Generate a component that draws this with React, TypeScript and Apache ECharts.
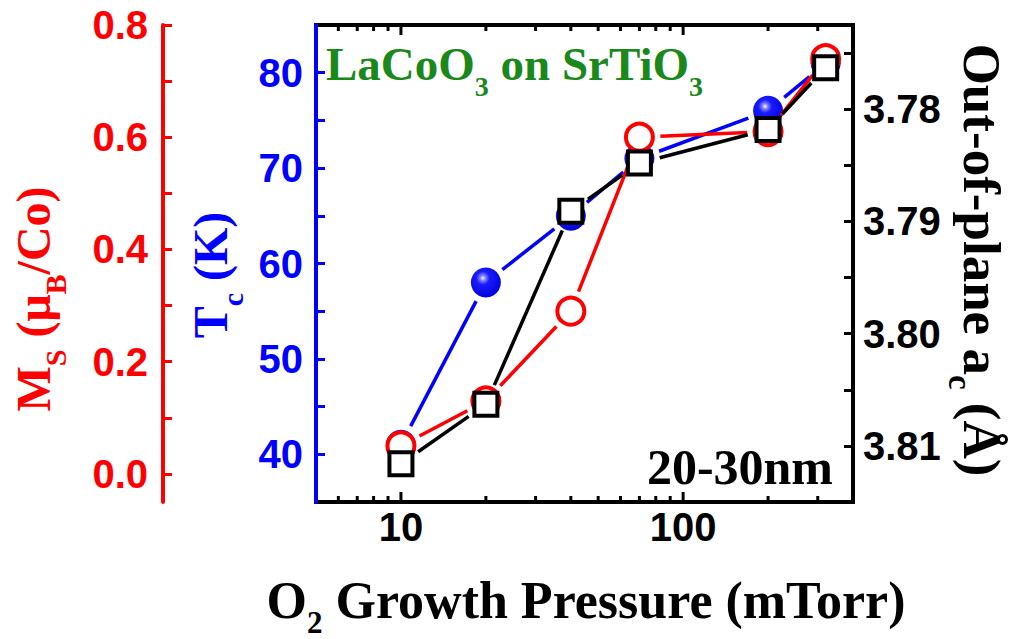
import React, { useEffect, useRef } from 'react';
import * as echarts from 'echarts';

// O2 growth pressure (mTorr) of the films
const pressure = [10, 20, 40, 70, 200, 320];
// Curie temperature Tc (K)
const tcValues = [41, 58, 65, 71, 76, 81];
// Saturation moment Ms (μB/Co)
const msValues = [0.05, 0.13, 0.29, 0.6, 0.61, 0.74];
// Out-of-plane lattice parameter a_c (Å)
const acValues = [3.8116, 3.8063, 3.7891, 3.7848, 3.7818, 3.7763];

// Axis ticks and labels
const tcTicks = [40, 45, 50, 55, 60, 65, 70, 75, 80];
const tcLabels = [40, 50, 60, 70, 80];
const msTicks = [0, 0.1, 0.2, 0.3, 0.4, 0.5, 0.6, 0.7, 0.8];
const msLabels = [0, 0.2, 0.4, 0.6, 0.8];
const acTicks = [3.775, 3.78, 3.785, 3.79, 3.795, 3.8, 3.805, 3.81];
const acLabels = [3.78, 3.79, 3.8, 3.81];
const xMajorTicks = [10, 100];
const xMinorTicks = [6, 7, 8, 9, 20, 30, 40, 50, 60, 70, 80, 90, 200, 300];

const SANS = "'Liberation Sans', Arial, sans-serif";
const SERIF = "'Liberation Serif', 'Times New Roman', serif";
const RED = '#ff0000';
const BLUE = '#0000ff';
const BLACK = '#000000';
const GREEN = '#1a881a';

const LINE_GAP = 21;

// Line segments between consecutive points, stopping short of each marker
function gappedLine(ys: number[], color: string, yAxisIndex: number, z: number) {
  return {
    type: 'custom',
    yAxisIndex,
    z,
    silent: true,
    encode: { x: 0, y: 1 },
    data: pressure.map((p, i) => [p, ys[i]]),
    renderItem: (params: any, api: any) => {
      const i = params.dataIndex;
      if (i >= pressure.length - 1) return { type: 'group', children: [] };
      const a = api.coord([pressure[i], ys[i]]);
      const b = api.coord([pressure[i + 1], ys[i + 1]]);
      const dx = b[0] - a[0];
      const dy = b[1] - a[1];
      const d = Math.hypot(dx, dy);
      if (d <= 2 * LINE_GAP) return { type: 'group', children: [] };
      const ux = dx / d;
      const uy = dy / d;
      return {
        type: 'line',
        shape: {
          x1: a[0] + ux * LINE_GAP,
          y1: a[1] + uy * LINE_GAP,
          x2: b[0] - ux * LINE_GAP,
          y2: b[1] - uy * LINE_GAP,
        },
        style: { stroke: color, lineWidth: 3.5 },
      };
    },
  };
}

const subStyle = (color: string, size: number) => ({
  fill: color,
  fontSize: size,
  fontWeight: 'bold',
  fontFamily: SERIF,
  padding: [44, 0, 0, 0],
});
const mainStyle = (color: string, size: number) => ({
  fill: color,
  fontSize: size,
  fontWeight: 'bold',
  fontFamily: SERIF,
});

function richText(text: string, color: string, size: number, subSize: number) {
  return {
    text,
    fill: color,
    fontSize: size,
    fontWeight: 'bold',
    fontFamily: SERIF,
    rich: { b: mainStyle(color, size), s: subStyle(color, subSize) },
  };
}

const tickLabelStyle = (color: string, margin: number) => ({
  fontSize: 40,
  fontWeight: 'bold',
  fontFamily: SANS,
  color,
  margin,
});

const option: any = {
  animation: false,
  backgroundColor: '#ffffff',
  grid: {
    left: 316,
    right: 160,
    top: 25,
    bottom: 137,
    show: true,
    borderColor: BLACK,
    borderWidth: 4,
    backgroundColor: 'transparent',
  },
  xAxis: {
    type: 'log',
    logBase: 10,
    min: 5,
    max: 400,
    axisLine: { show: true, onZero: false, lineStyle: { color: BLACK, width: 4 } },
    axisTick: { show: false },
    splitLine: { show: false },
    axisLabel: {
      ...tickLabelStyle(BLACK, 5),
      formatter: (v: number) =>
        Math.abs(v - 10) < 1e-6 || Math.abs(v - 100) < 1e-6 ? String(Math.round(v)) : '',
    },
  },
  yAxis: [
    {
      type: 'value',
      position: 'left',
      min: 35,
      max: 85,
      z: 3,
      axisLine: { show: true, onZero: false, lineStyle: { color: BLUE, width: 4 } },
      axisTick: {
        show: true,
        inside: true,
        length: 9,
        customValues: tcTicks,
        lineStyle: { color: BLUE, width: 3 },
      },
      axisLabel: { ...tickLabelStyle(BLUE, 13), customValues: tcLabels },
      splitLine: { show: false },
    },
    {
      type: 'value',
      position: 'left',
      offset: 153,
      min: -0.05,
      max: 0.8,
      axisLine: { show: true, onZero: false, lineStyle: { color: RED, width: 4 } },
      axisTick: {
        show: true,
        inside: true,
        length: 9,
        customValues: msTicks,
        lineStyle: { color: RED, width: 3 },
      },
      axisLabel: {
        ...tickLabelStyle(RED, 15),
        customValues: msLabels,
        formatter: (v: number) => v.toFixed(1),
      },
      splitLine: { show: false },
    },
    {
      type: 'value',
      position: 'right',
      inverse: true,
      min: 3.7725,
      max: 3.815,
      axisLine: { show: true, onZero: false, lineStyle: { color: BLACK, width: 4 } },
      axisTick: {
        show: true,
        inside: true,
        length: 9,
        customValues: acTicks,
        lineStyle: { color: BLACK, width: 3 },
      },
      axisLabel: {
        ...tickLabelStyle(BLACK, 10),
        customValues: acLabels,
        formatter: (v: number) => v.toFixed(2),
      },
      splitLine: { show: false },
    },
  ],
  graphic: [
    {
      type: 'text',
      x: 33,
      y: 299,
      rotation: Math.PI / 2,
      style: {
        ...richText('{b|M}{s|S}{b| (μ}{s|B}{b|/Co)}', RED, 48, 30),
        align: 'center',
        verticalAlign: 'middle',
      },
    },
    {
      type: 'text',
      x: 210,
      y: 275,
      rotation: Math.PI / 2,
      style: {
        ...richText('{b|T}{s|c}{b| (K)}', BLUE, 48, 30),
        align: 'center',
        verticalAlign: 'middle',
      },
    },
    {
      type: 'text',
      x: 982,
      y: 260,
      rotation: -Math.PI / 2,
      style: {
        ...richText('{b|Out-of-plane a}{s|c}{b| (Å)}', BLACK, 53, 33),
        align: 'center',
        verticalAlign: 'middle',
      },
    },
    {
      type: 'text',
      x: 586,
      y: 600,
      style: {
        ...richText('{b|O}{s|2}{b| Growth Pressure (mTorr)}', BLACK, 52, 31),
        align: 'center',
        verticalAlign: 'middle',
      },
    },
    {
      type: 'text',
      x: 326,
      y: 64,
      style: {
        ...richText('{b|LaCoO}{s|3}{b| on SrTiO}{s|3}', GREEN, 47, 28),
        align: 'left',
        verticalAlign: 'middle',
      },
    },
    {
      type: 'text',
      x: 833,
      y: 467,
      style: {
        text: '20-30nm',
        fill: BLACK,
        fontSize: 50,
        fontWeight: 'bold',
        fontFamily: SERIF,
        align: 'right',
        verticalAlign: 'middle',
      },
    },
  ],
  series: [
    // Log-axis ticks on the bottom and top frame
    {
      type: 'custom',
      z: 9,
      silent: true,
      encode: { x: 0, y: 1 },
      data: [
        ...xMajorTicks.map((v) => [v, 60, 1]),
        ...xMinorTicks.map((v) => [v, 60, 0]),
      ],
      renderItem: (params: any, api: any) => {
        const v = api.value(0);
        const major = api.value(2) === 1;
        const cs = params.coordSys;
        const x = api.coord([v, 60])[0];
        const len = major ? 10 : 6;
        const yb = cs.y + cs.height;
        const yt = cs.y;
        return {
          type: 'group',
          children: [
            { type: 'line', shape: { x1: x, y1: yb, x2: x, y2: yb - len }, style: { stroke: BLACK, lineWidth: 3 } },
            { type: 'line', shape: { x1: x, y1: yt, x2: x, y2: yt + len }, style: { stroke: BLACK, lineWidth: 3 } },
          ],
        };
      },
    },
    gappedLine(tcValues, BLUE, 0, 3),
    {
      type: 'scatter',
      name: 'Tc',
      yAxisIndex: 0,
      z: 4,
      symbol: 'circle',
      symbolSize: 30,
      data: pressure.map((p, i) => [p, tcValues[i]]),
      itemStyle: {
        color: {
          type: 'radial',
          x: 0.4,
          y: 0.35,
          r: 0.7,
          colorStops: [
            { offset: 0, color: '#ffffff' },
            { offset: 0.12, color: '#8888ff' },
            { offset: 0.32, color: '#1a1aff' },
            { offset: 1, color: '#0000d8' },
          ],
        },
        opacity: 1,
      },
    },
    gappedLine(msValues, RED, 1, 5),
    {
      type: 'scatter',
      name: 'Ms',
      yAxisIndex: 1,
      z: 6,
      symbol: 'circle',
      symbolSize: 27,
      data: pressure.map((p, i) => [p, msValues[i]]),
      itemStyle: { color: '#ffffff', borderColor: RED, borderWidth: 4, opacity: 1 },
    },
    gappedLine(acValues, BLACK, 2, 7),
    {
      type: 'scatter',
      name: 'a_c',
      yAxisIndex: 2,
      z: 8,
      symbol: 'rect',
      symbolSize: 23,
      data: pressure.map((p, i) => [p, acValues[i]]),
      itemStyle: { color: '#ffffff', borderColor: BLACK, borderWidth: 4, opacity: 1 },
    },
  ],
};

export default function App() {
  const ref = useRef<HTMLDivElement>(null);
  useEffect(() => {
    if (!ref.current) return;
    const chart = echarts.init(ref.current, null, { renderer: 'svg' });
    chart.setOption(option);
    return () => chart.dispose();
  }, []);
  return (
    <div
      ref={ref}
      style={{ position: 'fixed', left: 0, top: 0, width: 1013, height: 639, background: '#fff' }}
    />
  );
}
